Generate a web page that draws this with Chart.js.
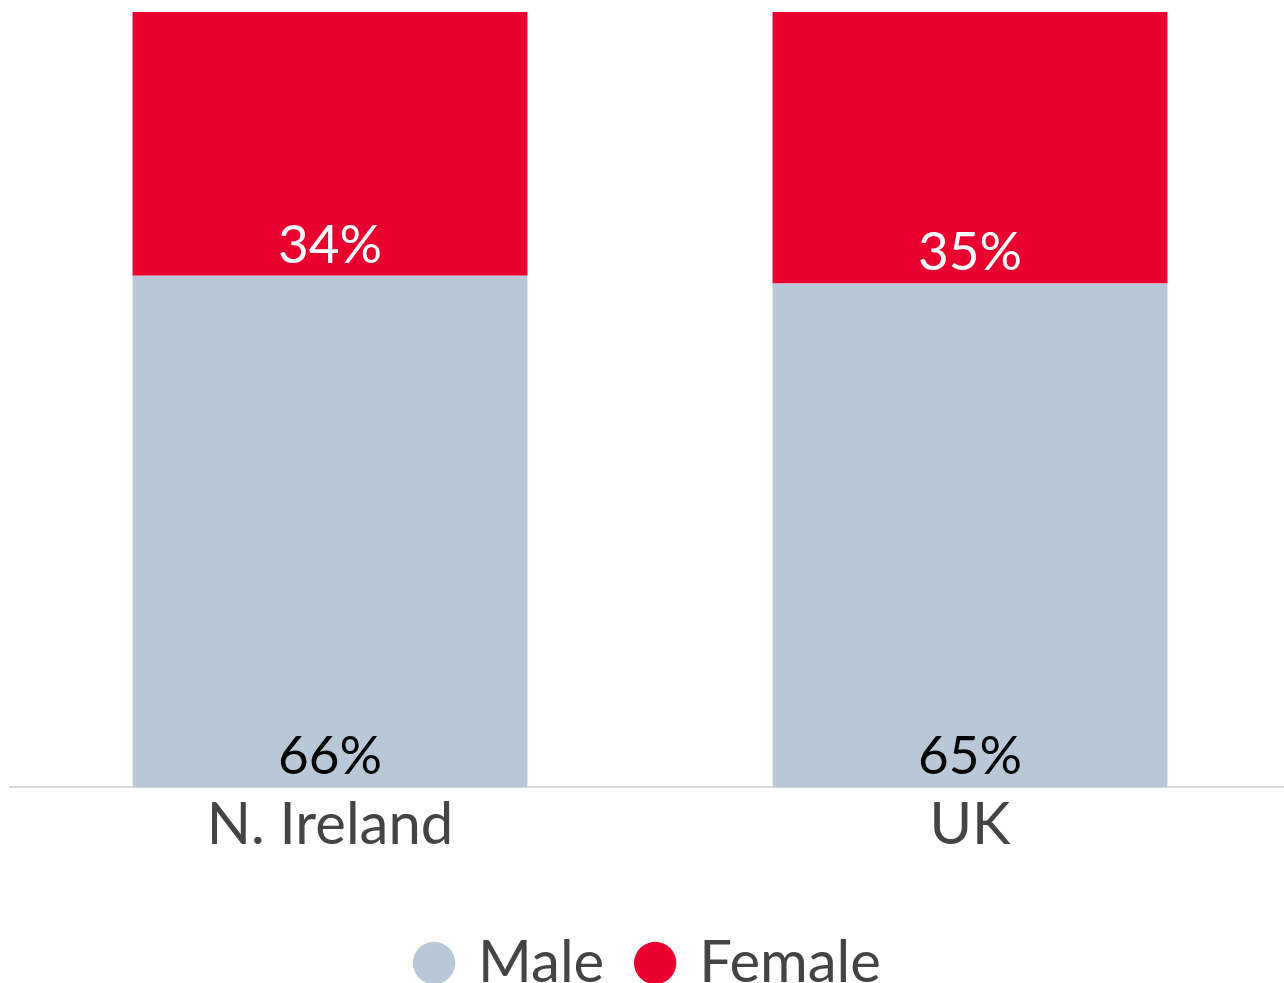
<!DOCTYPE html>
<html>
<head>
<meta charset="utf-8">
<script src="https://cdn.jsdelivr.net/npm/chart.js@4"></script>
<style>
  html, body { margin: 0; padding: 0; background: #fff; overflow: hidden; }
  #wrap { width: 1290px; height: 983px; }
</style>
</head>
<body>
<div id="wrap"><canvas id="myChart"></canvas></div>
<script>
const categories = ["N. Ireland", "UK"];
const maleValues = [66, 65];
const femaleValues = [34, 35];
const seriesNames = ["Male", "Female"];

const FONT = "Lato, 'Open Sans', sans-serif";

// étiquettes en bas de chaque segment
const segmentLabels = {
    id: "segmentLabels",
    afterDatasetsDraw(chart) {
        const ctx = chart.ctx;
        ctx.save();
        ctx.font = "53px " + FONT;
        ctx.textAlign = "center";
        ctx.textBaseline = "alphabetic";
        chart.data.datasets.forEach((ds, i) => {
            const meta = chart.getDatasetMeta(i);
            meta.data.forEach((bar, j) => {
                ctx.fillStyle = ds.labelColor;
                ctx.fillText(ds.data[j] + "%", bar.x, bar.base - 13);
            });
        });
        ctx.restore();
    }
};

const ctx = document.getElementById("myChart").getContext("2d");

new Chart(ctx, {
    type: "bar",
    data: {
        labels: categories,
        datasets: [{
            label: seriesNames[0],
            data: maleValues,
            backgroundColor: "#B8C8D8",
            labelColor: "#000000"
        }, {
            label: seriesNames[1],
            data: femaleValues,
            backgroundColor: "#E8002F",
            labelColor: "#FFFFFF"
        }]
    },
    options: {
        responsive: true,
        maintainAspectRatio: false,
        animation: false,
        layout: {
            padding: { left: 10, right: 0, top: 12, bottom: -19 }
        },
        datasets: {
            bar: {
                categoryPercentage: 1,
                barPercentage: 0.617
            }
        },
        plugins: {
            legend: {
                position: "bottom",
                labels: {
                    usePointStyle: true,
                    pointStyle: "circle",
                    boxWidth: 30,
                    boxHeight: 30,
                    padding: 36,
                    color: "#444444",
                    font: { family: FONT, size: 58 }
                }
            },
            tooltip: { enabled: false }
        },
        scales: {
            x: {
                stacked: true,
                grid: { display: false },
                border: { color: "#D9D9D9", width: 2 },
                ticks: {
                    color: "#444444",
                    padding: -5,
                    font: { family: FONT, size: 58 }
                },
                afterFit(scale) {
                    scale.height += 43;
                }
            },
            y: {
                stacked: true,
                display: false,
                min: 0,
                max: 100
            }
        }
    },
    plugins: [segmentLabels]
});
</script>
</body>
</html>
